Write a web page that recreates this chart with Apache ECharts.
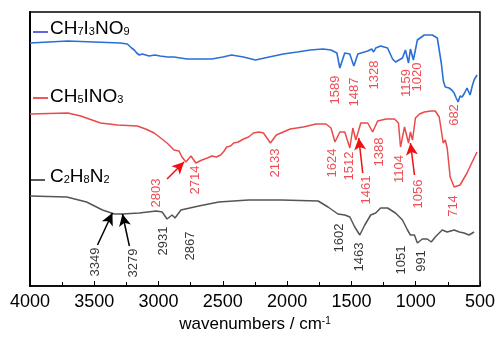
<!DOCTYPE html>
<html>
<head>
<meta charset="utf-8">
<script src="https://cdn.jsdelivr.net/npm/echarts@6/dist/echarts.min.js"></script>
<style>
  html, body { margin: 0; padding: 0; background: #fff; }
  #chart { width: 498px; height: 339px; }
</style>
</head>
<body>
<div id="chart"></div>
<script>
// spectra: [wavenumber, transmittance (arb., offset)]
const ch7i3no9 = [
  [4000, 243], [3706, 245], [3297, 243], [3243, 242], [3210, 238], [3189, 236], [3170, 233], [3150, 231],
  [3127, 232], [3073, 230], [3030, 231], [2988, 230], [2930, 229], [2880, 229], [2830, 228], [2779, 227],
  [2680, 227], [2586, 227], [2500, 229], [2432, 231], [2340, 229], [2246, 226], [2140, 229], [2030, 232],
  [1921, 234], [1821, 236], [1721, 237], [1659, 236], [1613, 233], [1590, 218], [1552, 233], [1513, 232],
  [1481, 220], [1450, 232], [1373, 235], [1342, 237], [1327, 234], [1311, 238], [1273, 240], [1219, 238],
  [1180, 227], [1157, 224], [1103, 228], [1080, 236], [1056, 223], [1041, 237], [1018, 226], [987, 246],
  [933, 251], [871, 251], [832, 248], [801, 223], [785, 205], [770, 199], [755, 201], [740, 198],
  [720, 196], [701, 193], [685, 188], [670, 184], [655, 190], [639, 189], [620, 193], [601, 198],
  [577, 191], [560, 200], [546, 206], [523, 211]
];
const ch5ino3 = [
  [4000, 172], [3706, 173], [3606, 170], [3451, 163], [3320, 161], [3166, 160], [3100, 157], [3034, 153],
  [2934, 143], [2880, 136], [2841, 135], [2818, 129], [2787, 124], [2748, 130], [2710, 123], [2663, 126],
  [2620, 128], [2586, 130], [2550, 129], [2517, 131], [2490, 135], [2470, 139], [2440, 140], [2416, 143],
  [2380, 144], [2339, 147], [2300, 149], [2262, 153], [2220, 154], [2184, 153], [2130, 143], [2084, 151],
  [2030, 154], [1976, 157], [1875, 159], [1775, 162], [1698, 162], [1659, 158], [1628, 144], [1590, 154],
  [1552, 154], [1512, 138], [1489, 158], [1466, 146], [1427, 163], [1373, 163], [1335, 154], [1296, 165],
  [1230, 167], [1165, 167], [1134, 163], [1118, 139], [1087, 159], [1056, 143], [1041, 154], [1025, 146],
  [1002, 168], [970, 172], [933, 174], [880, 175], [848, 175], [817, 169], [786, 143], [770, 146],
  [755, 138], [732, 109], [701, 99], [655, 101], [601, 113], [546, 128], [523, 134]
];
const c2h8n2 = [
  [4000, 90], [3714, 89], [3560, 84], [3436, 76], [3343, 72], [3281, 72], [3150, 73], [3019, 75],
  [2972, 74], [2934, 67], [2895, 71], [2872, 68], [2826, 76], [2687, 80], [2532, 84], [2300, 86],
  [2045, 86], [1759, 85], [1682, 79], [1605, 72], [1551, 71], [1512, 69], [1474, 59], [1435, 51],
  [1396, 61], [1350, 71], [1311, 73], [1273, 78], [1219, 78], [1157, 73], [1103, 66], [1064, 56],
  [1041, 51], [1010, 51], [987, 43], [948, 47], [910, 47], [879, 44], [848, 49], [794, 56],
  [755, 54], [701, 56], [660, 54], [624, 53], [585, 51], [546, 54]
];

// peak annotations: [text, wavenumber, y]
const peaksCH7I3NO9 = [
  ['1589', 1624, 196], ['1487', 1474, 194], ['1328', 1319, 211],
  ['1159', 1072, 203], ['1020', 987, 209], ['682', 701, 171]
];
const peaksCH5INO3 = [
  ['2803', 3019, 93], ['2714', 2710, 106], ['2133', 2092, 123], ['1624', 1651, 123],
  ['1512', 1512, 120], ['1461', 1381, 96], ['1388', 1280, 134], ['1104', 1126, 117],
  ['1056', 979, 92], ['714', 709, 80]
];
const peaksC2H8N2 = [
  ['3349', 3490, 24], ['3279', 3196, 23], ['2931', 2965, 45], ['2867', 2756, 40],
  ['1602', 1597, 48], ['1463', 1435, 29], ['1051', 1110, 26], ['991', 956, 25]
];

// arrows: [[fromWn, fromY], [toWn, toY]]
const arrowsRed = [
  [[2934, 107], [2802, 124]],
  [[1412, 113], [1443, 148]],
  [[1010, 111], [1041, 143]]
];
const arrowsBlack = [
  [[3475, 41], [3359, 73]],
  [[3227, 40], [3281, 72]]
];

const BLUE = '#2a6fd8';
const RED = '#ea4a4a';
const RED_TXT = '#e8202a';
const GRAY = '#555555';
const FONT = "'Liberation Sans', Arial, sans-serif";

const chart = echarts.init(document.getElementById('chart'));

function peakSeries(list, color) {
  return {
    type: 'scatter',
    data: list.map(p => [p[1], p[2], p[0]]),
    symbolSize: 1,
    itemStyle: { color: 'transparent' },
    silent: true,
    label: {
      show: true,
      position: 'inside',
      rotate: 90,
      color: color,
      fontSize: 13,
      fontFamily: FONT,
      formatter: p => p.value[2]
    },
    z: 5
  };
}

function arrowSeries(list, color) {
  return {
    type: 'line',
    data: [],
    silent: true,
    markLine: {
      silent: true,
      symbol: ['none', 'arrow'],
      symbolSize: [9, 12],
      label: { show: false },
      lineStyle: { color: color, width: 1.5, type: 'solid' },
      data: list.map(a => [{ coord: a[0] }, { coord: a[1] }])
    }
  };
}

function formula(parts) {
  // parts: [main, sub, main, sub, ...]
  return parts.map((t, i) => (i % 2 === 0 ? '{m|' + t + '}' : '{s|' + t + '}')).join('');
}
function richStyle(color) {
  return {
    m: { fontSize: 19, lineHeight: 22, fontFamily: FONT, color: color },
    s: { fontSize: 11, lineHeight: 22, padding: [6, 0, 0, 0], fontFamily: FONT, color: color }
  };
}

chart.setOption({
  animation: false,
  backgroundColor: '#fff',
  grid: {
    left: 30, right: 15, top: 12, bottom: 53,
    show: true, borderColor: '#000', borderWidth: 1.5
  },
  xAxis: {
    type: 'value',
    inverse: true,
    min: 500,
    max: 4000,
    interval: 500,
    name: '{n|wavenumbers / cm}{p|-1}',
    nameLocation: 'middle',
    nameGap: 21,
    nameTextStyle: {
      rich: {
        n: { fontSize: 17, lineHeight: 22, verticalAlign: 'top', fontFamily: FONT, color: '#000' },
        p: { fontSize: 10, lineHeight: 10, verticalAlign: 'top', fontFamily: FONT, color: '#000' }
      }
    },
    axisLine: { lineStyle: { color: '#000', width: 1.5 } },
    axisTick: { inside: true, length: 5, lineStyle: { color: '#000' } },
    minorTick: { show: true, splitNumber: 2, length: 4, lineStyle: { color: '#000' } },
    axisLabel: { color: '#000', fontSize: 18, fontFamily: FONT, margin: 7, formatter: v => String(v) },
    splitLine: { show: false }
  },
  yAxis: {
    type: 'value',
    min: 0,
    max: 274,
    axisLine: { show: true, lineStyle: { color: '#000', width: 2 } },
    axisTick: { show: false },
    axisLabel: { show: false },
    splitLine: { show: false }
  },
  series: [
    { type: 'line', data: ch7i3no9, symbol: 'none', lineStyle: { color: BLUE, width: 1.6 } },
    { type: 'line', data: ch5ino3, symbol: 'none', lineStyle: { color: RED, width: 1.5 } },
    { type: 'line', data: c2h8n2, symbol: 'none', lineStyle: { color: GRAY, width: 1.5 } },
    peakSeries(peaksCH7I3NO9, RED_TXT),
    peakSeries(peaksCH5INO3, RED_TXT),
    peakSeries(peaksC2H8N2, '#000'),
    arrowSeries(arrowsRed, '#f01010'),
    arrowSeries(arrowsBlack, '#000')
  ],
  graphic: [
    { type: 'line', shape: { x1: 33, y1: 32, x2: 48, y2: 32 }, style: { stroke: '#2b35d8', lineWidth: 1.5 } },
    { type: 'text', x: 50, y: 18, style: { text: formula(['CH', '7', 'I', '3', 'NO', '9']), rich: richStyle('#2b35d8') } },
    { type: 'line', shape: { x1: 33, y1: 98, x2: 48, y2: 98 }, style: { stroke: '#e82020', lineWidth: 1.5 } },
    { type: 'text', x: 50, y: 86, style: { text: formula(['CH', '5', 'INO', '3']), rich: richStyle('#e82020') } },
    { type: 'line', shape: { x1: 30, y1: 180, x2: 45, y2: 180 }, style: { stroke: '#222', lineWidth: 1.5 } },
    { type: 'text', x: 50, y: 166, style: { text: formula(['C', '2', 'H', '8', 'N', '2']), rich: richStyle('#222') } }
  ]
});
</script>
</body>
</html>
